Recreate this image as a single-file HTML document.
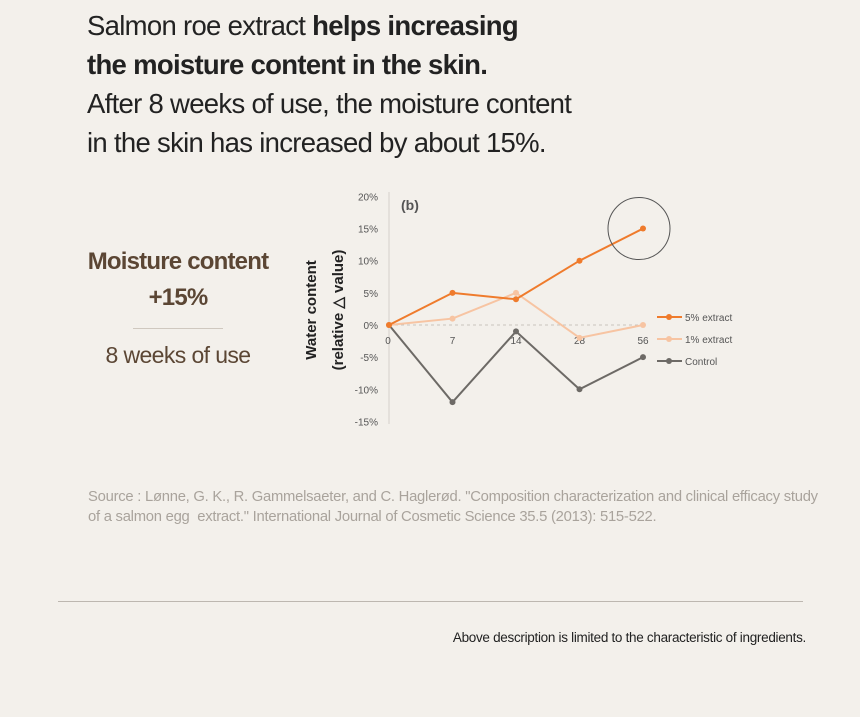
<!DOCTYPE html>
<html><head><meta charset="utf-8"><style>
body{margin:0;width:860px;height:717px;background:#f3f0eb;font-family:"Liberation Sans",sans-serif;position:relative;overflow:hidden}
.h{position:absolute;left:87px;font-size:27.5px;color:#222;letter-spacing:-0.7px;line-height:39px}
</style></head><body>
<div class="h" style="top:6px">Salmon roe extract <b>helps increasing</b><br><b>the moisture content in the skin.</b><br>After 8 weeks of use, the moisture content<br>in the skin has increased by about 15%.</div>
<div style="position:absolute;left:70px;top:244px;width:216px;text-align:center;color:#5b4634">
<div style="font-size:24px;font-weight:bold;letter-spacing:-0.8px;line-height:36px">Moisture content<br>+15%</div>
<div style="width:90px;height:1px;background:#cfc8bf;margin:12px auto 13px"></div>
<div style="font-size:23px;letter-spacing:-0.6px">8 weeks of use</div></div>
<svg width="860" height="717" style="position:absolute;left:0;top:0">
<g id="g"></g></svg>
<div style="position:absolute;left:88px;top:487px;font-size:14.8px;color:#a9a39c;line-height:20px;letter-spacing:-0.25px">Source : Lønne, G. K., R. Gammelsaeter, and C. Haglerød. "Composition characterization and clinical efficacy study<br>of a salmon egg&nbsp; extract." International Journal of Cosmetic Science 35.5 (2013): 515-522.</div>
<div style="position:absolute;left:58px;top:601px;width:745px;height:1px;background:#bdb7b0"></div>
<div style="position:absolute;right:54px;top:630px;font-size:13.5px;color:#222;letter-spacing:-0.3px">Above description is limited to the characteristic of ingredients.</div>
<script>
const categories=["0","7","14","28","56"];
const ext5=[0,5,4,10,15];
const ext1=[0,1,5,-2,0];
const control=[0,-12,-1,-10,-5];
const yTicks=[20,15,10,5,0,-5,-10,-15];
const g=document.getElementById('g');
const NS="http://www.w3.org/2000/svg";
const x=i=>389+i*63.5, y=v=>325-v*6.43;
function mk(t,a,txt){const e=document.createElementNS(NS,t);for(const k in a)e.setAttribute(k,a[k]);if(txt!=null)e.textContent=txt;g.appendChild(e);return e;}
let e=mk('line',{x1:389,y1:192,x2:389,y2:424,stroke:'#d6d1cb'});


e=mk('line',{x1:389,y1:y(0),x2:645,y2:y(0),stroke:'#c8c3bc','stroke-dasharray':'3,3'});


yTicks.forEach(v=>{const t=mk('text',{x:378,y:y(v)+4,'text-anchor':'end','font-size':10,fill:'#555'},v+'%');

});
categories.forEach((c,i)=>{const t=mk('text',{x:x(i)-(i==0?1:0),y:344,'text-anchor':'middle','font-size':10,fill:'#555'},c);

});
const series=[[control,'#6d6a66','control'],[ext1,'#f7c4a2','1pct-extract'],[ext5,'#ef7b2c','5pct-extract']];
series.forEach(([d,col,n])=>{const p=mk('polyline',{points:d.map((v,i)=>x(i)+','+y(v)).join(' '),fill:'none',stroke:col,'stroke-width':2});


d.forEach((v,i)=>{const c=mk('circle',{cx:x(i),cy:y(v),r:3,fill:col});

});});
const leg=[['5% extract','#ef7b2c',317],['1% extract','#f7c4a2',339],['Control','#6d6a66',361]];
leg.forEach(([t,c,yy])=>{mk('line',{x1:657,y1:yy,x2:682,y2:yy,stroke:c,'stroke-width':2});mk('circle',{cx:669,cy:yy,r:3,fill:c});
const tx=mk('text',{x:685,y:yy+4,'font-size':10,fill:'#555'},t);

});
e=mk('circle',{cx:x(4)-4,cy:y(15),r:31,fill:'none',stroke:'#555','stroke-width':1});


e=mk('text',{x:401,y:210,'font-size':14,'font-weight':'bold',fill:'#555'},'(b)');


e=mk('text',{transform:'translate(316,310) rotate(-90)','text-anchor':'middle','font-size':15,'font-weight':'bold',fill:'#222'},'Water content');


e=mk('text',{transform:'translate(343,310) rotate(-90)','text-anchor':'middle','font-size':15,'font-weight':'bold',fill:'#222'},'(relative △ value)');


</script>
</body></html>
